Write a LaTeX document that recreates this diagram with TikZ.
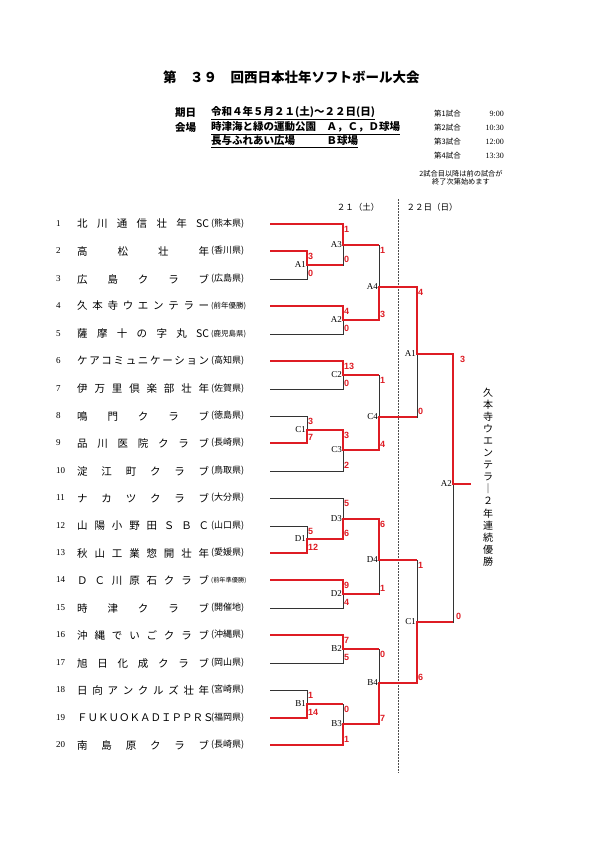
\documentclass[tikz,border=0pt]{standalone}
\usepackage{fontspec}
\setmainfont{Noto Sans CJK JP}
\newfontfamily\romfont{Liberation Serif}
\newfontfamily\scfont{Liberation Sans}
\usetikzlibrary{positioning}
\definecolor{bred}{RGB}{222,28,36}
\newcommand{\fsz}[1]{\fontsize{#1}{#1}\selectfont}

\begin{document}
\begin{tikzpicture}[
  x=1pt, y=-1pt,
  base/.style={draw=black!80, line width=0.8pt},
  win/.style={draw=bred, line width=1.5pt},
  jp/.style={inner sep=0pt, anchor=west},
  sc/.style={font=\scfont\bfseries\fsz{9}, text=bred, inner sep=1pt},
  sct/.style={sc, anchor=north west, yshift=-1pt},
  scb/.style={sc, anchor=south west, yshift=1pt},
  ml/.style={font=\romfont\fsz{9}, inner sep=1pt, anchor=east}
]
\useasboundingbox (0,0) rectangle (595,842);

% heading
\node[font=\bfseries\fsz{13.5}, jp] (title) at (163,77) {第　３９　回西日本壮年ソフトボール大会};
\node[font=\bfseries\fsz{10.5}, jp] (kijitsu) at (175,113) {期日};
\node[font=\bfseries\fsz{10.5}, jp] (kaijo) at (175,128) {会場};
\node[font=\bfseries\fsz{10.5}, jp] (date) at (211,113) {\underline{令和４年５月２１(土)～２２日(日)}};
\node[font=\bfseries\fsz{10.5}, jp] (venue1) at (211,128) {\underline{時津海と緑の運動公園　Ａ，Ｃ，Ｄ球場}};
\node[font=\bfseries\fsz{10.5}, jp] (venue2) at (211,142) {\underline{長与ふれあい広場　　　Ｂ球場}};
\node[font=\fsz{7.5}, jp] (g1) at (434,114) {第1試合};
\node[font=\fsz{7.5}, jp] (g2) at (434,128) {第2試合};
\node[font=\fsz{7.5}, jp] (g3) at (434,142) {第3試合};
\node[font=\fsz{7.5}, jp] (g4) at (434,156) {第4試合};
\node[font=\romfont\fsz{8}, inner sep=0pt, anchor=east] (t1) at (504,114) {9:00};
\node[font=\romfont\fsz{8}, inner sep=0pt, anchor=east] (t2) at (504,128) {10:30};
\node[font=\romfont\fsz{8}, inner sep=0pt, anchor=east] (t3) at (504,142) {12:00};
\node[font=\romfont\fsz{8}, inner sep=0pt, anchor=east] (t4) at (504,156) {13:30};
\node[font=\fontsize{7.2}{8.5}\selectfont, align=center, inner sep=0pt] (note) at (461,178) {2試合目以降は前の試合が\\終了次第始めます};
\node[font=\fsz{8.5}] (day1) at (358,207) {２１（土）};
\node[font=\fsz{8.5}] (day2) at (432,207) {２２日（日）};

% teams
\foreach \i/\nm/\pf/\fs in {
  1/{北 川 通 信 壮 年 SC}/熊本県/9,
  2/{高 松 壮 年}/香川県/9,
  3/{広 島 ク ラ ブ}/広島県/9,
  4/{久 本 寺 ウ エ ン テ ラ ー}/前年優勝/7.5,
  5/{薩 摩 十 の 字 丸 SC}/鹿児島県/7.5,
  6/{ケ ア コ ミ ュ ニ ケ ー シ ョ ン}/高知県/9,
  7/{伊 万 里 倶 楽 部 壮 年}/佐賀県/9,
  8/{鳴 門 ク ラ ブ}/徳島県/9,
  9/{品 川 医 院 ク ラ ブ}/長崎県/9,
  10/{淀 江 町 ク ラ ブ}/鳥取県/9,
  11/{ナ カ ツ ク ラ ブ}/大分県/9,
  12/{山 陽 小 野 田 Ｓ Ｂ Ｃ}/山口県/9,
  13/{秋 山 工 業 惣 開 壮 年}/愛媛県/9,
  14/{Ｄ Ｃ 川 原 石 ク ラ ブ}/前年準優勝/6.2,
  15/{時 津 ク ラ ブ}/開催地/9,
  16/{沖 縄 で い ご ク ラ ブ}/沖縄県/9,
  17/{旭 日 化 成 ク ラ ブ}/岡山県/9,
  18/{日 向 ア ン ク ル ズ 壮 年}/宮崎県/9,
  19/{Ｆ Ｕ Ｋ Ｕ Ｏ Ｋ Ａ Ｄ Ｉ Ｐ Ｐ Ｒ Ｓ}/福岡県/9,
  20/{南 島 原 ク ラ ブ}/長崎県/9}
{
  \pgfmathtruncatemacro{\ry}{224+(\i-1)*27.42+0.5}
  \node[font=\romfont\fsz{9}, jp] (k\i) at (56,\ry) {\i};
  \node[font=\fsz{10.5}, jp] (n\i) at (77,\ry) {\makebox[132pt][s]{\spaceskip=0pt plus 1fil\relax\nm}};
  \node[font=\fsz{\fs}, jp] (p\i) at (211,\ry) {(\pf)};
  \coordinate (e\i) at (270,\ry);
}

% match points
\coordinate (mA1) at (307,265);
\coordinate (mA3) at (343,245);
\coordinate (mA2) at (343,320);
\coordinate (mA4) at (379,287);
\coordinate (mC2) at (343,375);
\coordinate (mC1) at (307,430);
\coordinate (mC3) at (343,450);
\coordinate (mC4) at (379,417);
\coordinate (mD1) at (307,539);
\coordinate (mD3) at (343,519);
\coordinate (mD2) at (343,594);
\coordinate (mD4) at (379,560);
\coordinate (mB2) at (343,649);
\coordinate (mB1) at (307,704);
\coordinate (mB3) at (343,724);
\coordinate (mB4) at (379,683);
\coordinate (dA1) at (417,354);
\coordinate (dC1) at (417,622);
\coordinate (fA2) at (453,484);
\coordinate (fw) at (471,484);
\coordinate (dtop) at (398,199);
\coordinate (dbot) at (398,773);

\draw[black!70, line width=0.6pt, dash pattern=on 2pt off 1pt] (dtop) -- (dbot);

\draw[base] (e2) -| (mA1) (e3) -| (mA1) (e1) -| (mA3) (mA1) -| (mA3)
  (e4) -| (mA2) (e5) -| (mA2) (mA3) -| (mA4) (mA2) -| (mA4)
  (e6) -| (mC2) (e7) -| (mC2) (e8) -| (mC1) (e9) -| (mC1)
  (mC1) -| (mC3) (e10) -| (mC3) (mC2) -| (mC4) (mC3) -| (mC4)
  (e11) -| (mD3) (mD1) -| (mD3) (e12) -| (mD1) (e13) -| (mD1)
  (e14) -| (mD2) (e15) -| (mD2) (mD3) -| (mD4) (mD2) -| (mD4)
  (e16) -| (mB2) (e17) -| (mB2) (e18) -| (mB1) (e19) -| (mB1)
  (mB1) -| (mB3) (e20) -| (mB3) (mB2) -| (mB4) (mB3) -| (mB4)
  (mA4) -| (dA1) (mC4) -| (dA1) (mD4) -| (dC1) (mB4) -| (dC1)
  (dA1) -| (fA2) (dC1) -| (fA2);

% winners
\draw[win] (e2) -| (mA1) -- (mA1 -| mA3);
\draw[win] (e1) -| (mA3) -- (mA3 -| mA4);
\draw[win] (e4) -| (mA2) -| (mA4) -| (dA1) -| (fA2) -- (fw);
\draw[win] (e6) -| (mC2) -- (mC2 -| mC4);
\draw[win] (e9) -| (mC1) -| (mC3) -| (mC4) -- (mC4 -| dA1);
\draw[win] (e13) -| (mD1) -| (mD3) -| (mD4) -- (mD4 -| dC1);
\draw[win] (e14) -| (mD2) -- (mD2 -| mD4);
\draw[win] (e16) -| (mB2) -- (mB2 -| mB4);
\draw[win] (e19) -| (mB1) -- (mB1 -| mB3);
\draw[win] (e20) -| (mB3) -| (mB4) -| (dC1) -- (dC1 -| fA2);

% match labels
\node[ml] (lA1) at (mA1) {A1};
\node[ml] (lA3) at (mA3) {A3};
\node[ml] (lA2) at (mA2) {A2};
\node[ml] (lA4) at (mA4) {A4};
\node[ml] (lC2) at (mC2) {C2};
\node[ml] (lC1) at (mC1) {C1};
\node[ml] (lC3) at (mC3) {C3};
\node[ml] (lC4) at (mC4) {C4};
\node[ml] (lD1) at (mD1) {D1};
\node[ml] (lD3) at (mD3) {D3};
\node[ml] (lD2) at (mD2) {D2};
\node[ml] (lD4) at (mD4) {D4};
\node[ml] (lB2) at (mB2) {B2};
\node[ml] (lB1) at (mB1) {B1};
\node[ml] (lB3) at (mB3) {B3};
\node[ml] (lB4) at (mB4) {B4};
\node[ml] (ldA1) at (dA1) {A1};
\node[ml] (ldC1) at (dC1) {C1};
\node[ml] (lfA2) at (fA2) {A2};

% scores
\node[sct] (sA1a) at (mA1 |- e2) {3};
\node[scb] (sA1b) at (mA1 |- e3) {0};
\node[sct] (sA3a) at (mA3 |- e1) {1};
\node[scb] (sA3b) at (mA3 |- mA1) {0};
\node[sct] (sA2a) at (mA2 |- e4) {4};
\node[scb] (sA2b) at (mA2 |- e5) {0};
\node[sct] (sA4a) at (mA4 |- mA3) {1};
\node[scb] (sA4b) at (mA4 |- mA2) {3};
\node[sct] (sC2a) at (mC2 |- e6) {13};
\node[scb] (sC2b) at (mC2 |- e7) {0};
\node[sct] (sC1a) at (mC1 |- e8) {3};
\node[scb] (sC1b) at (mC1 |- e9) {7};
\node[sct] (sC3a) at (mC3 |- mC1) {3};
\node[scb] (sC3b) at (mC3 |- e10) {2};
\node[sct] (sC4a) at (mC4 |- mC2) {1};
\node[scb] (sC4b) at (mC4 |- mC3) {4};
\node[sct] (sD3a) at (mD3 |- e11) {5};
\node[scb] (sD3b) at (mD3 |- mD1) {6};
\node[sct] (sD1a) at (mD1 |- e12) {5};
\node[scb] (sD1b) at (mD1 |- e13) {12};
\node[sct] (sD2a) at (mD2 |- e14) {9};
\node[scb] (sD2b) at (mD2 |- e15) {4};
\node[sct] (sD4a) at (mD4 |- mD3) {6};
\node[scb] (sD4b) at (mD4 |- mD2) {1};
\node[sct] (sB2a) at (mB2 |- e16) {7};
\node[scb] (sB2b) at (mB2 |- e17) {5};
\node[sct] (sB1a) at (mB1 |- e18) {1};
\node[scb] (sB1b) at (mB1 |- e19) {14};
\node[sct] (sB3a) at (mB3 |- mB1) {0};
\node[scb] (sB3b) at (mB3 |- e20) {1};
\node[sct] (sB4a) at (mB4 |- mB2) {0};
\node[scb] (sB4b) at (mB4 |- mB3) {7};
\node[sct] (sdA1a) at (dA1 |- mA4) {4};
\node[scb] (sdA1b) at (dA1 |- mC4) {0};
\node[sct] (sdC1a) at (dC1 |- mD4) {1};
\node[scb] (sdC1b) at (dC1 |- mB4) {6};
\node[sct, xshift=6pt] (sfA2a) at (fA2 |- dA1) {3};
\node[scb, xshift=2pt] (sfA2b) at (fA2 |- dC1) {0};

% champion
\node[font=\fontsize{10}{12.07}\selectfont, align=center, inner sep=0pt] (champ) at (488,477)
  {久\\本\\寺\\ウ\\エ\\ン\\テ\\ラ\\｜\\２\\年\\連\\続\\優\\勝};
\end{tikzpicture}
\end{document}
